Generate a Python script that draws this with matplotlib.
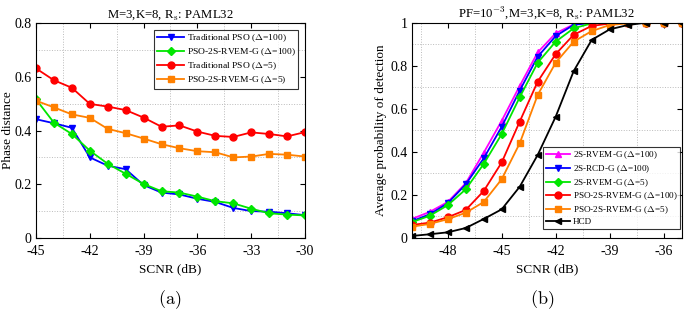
import numpy as np
import matplotlib
matplotlib.use("Agg")
import matplotlib.pyplot as plt
from matplotlib.ticker import FuncFormatter

plt.rcParams['font.family'] = ['Liberation Serif', 'DejaVu Serif']
plt.rcParams['mathtext.fontset'] = 'cm'
plt.rcParams['axes.unicode_minus'] = False

# ---- (a) phase distance vs SCNR
snr_a = np.arange(-45, -29, 1)
trad_pso_100 = [0.442, 0.427, 0.410, 0.300, 0.269, 0.256, 0.197, 0.169, 0.162, 0.146,
                0.134, 0.112, 0.100, 0.098, 0.092, 0.085]
pso_rvem_100 = [0.516, 0.429, 0.387, 0.325, 0.276, 0.239, 0.201, 0.174, 0.169, 0.154,
                0.137, 0.129, 0.109, 0.092, 0.087, 0.084]
trad_pso_5 = [0.631, 0.587, 0.559, 0.499, 0.489, 0.476, 0.448, 0.414, 0.419, 0.396,
              0.380, 0.376, 0.393, 0.387, 0.378, 0.394]
pso_rvem_5 = [0.511, 0.486, 0.460, 0.447, 0.406, 0.390, 0.370, 0.349, 0.334, 0.323,
              0.319, 0.300, 0.303, 0.313, 0.310, 0.303]

# ---- (b) detection probability vs SCNR
snr_b = np.arange(-50, -34, 1)
rvem_100 = [0.087, 0.120, 0.166, 0.253, 0.395, 0.544, 0.706, 0.862, 0.951, 0.992,
            1.0, 1.0, 1.0, 1.0, 1.0, 1.0]
rcd_100 = [0.076, 0.109, 0.160, 0.248, 0.369, 0.516, 0.684, 0.842, 0.938, 0.990,
           1.0, 1.0, 1.0, 1.0, 1.0, 1.0]
rvem_5 = [0.072, 0.102, 0.151, 0.225, 0.343, 0.482, 0.653, 0.814, 0.912, 0.974,
          0.997, 1.0, 1.0, 1.0, 1.0, 1.0]
pso_b_100 = [0.059, 0.070, 0.095, 0.129, 0.217, 0.350, 0.540, 0.726, 0.854, 0.944,
             0.985, 0.996, 1.0, 1.0, 1.0, 1.0]
pso_b_5 = [0.051, 0.064, 0.086, 0.116, 0.166, 0.272, 0.439, 0.664, 0.814, 0.912,
           0.961, 0.989, 0.997, 1.0, 1.0, 1.0]
hcd = [0.008, 0.016, 0.025, 0.045, 0.087, 0.132, 0.237, 0.385, 0.563, 0.775,
       0.920, 0.969, 0.989, 1.0, 1.0, 1.0]

W, H = 685, 316
fig = plt.figure(figsize=(W / 100, H / 100), dpi=100)
ax1 = fig.add_axes([36 / W, 1 - 238 / H, 269 / W, 215 / H])
ax2 = fig.add_axes([411.7 / W, 1 - 237.7 / H, 270 / W, 215 / H])

def style(ax):
    ax.tick_params(direction='in', top=True, right=True, labelsize=10, length=3.5, width=0.8)
    ax.tick_params(axis='x', pad=5)
    ax.tick_params(axis='y', pad=3)
    for s in ax.spines.values():
        s.set_linewidth(0.8)
    ax.grid(True, which='minor', linestyle=':', color='#bbbbbb', lw=0.7)
    ax.tick_params(which='minor', length=0)

lw, ms = 1.3, 5
ax1.plot(snr_a, trad_pso_100, '-v', color='#0000ff', lw=lw, ms=ms, label=r'Traditional PSO ($\Delta$=100)')
ax1.plot(snr_a, pso_rvem_100, '-D', color='#00e600', lw=lw, ms=4.5, label=r'PSO-2S-RVEM-G ($\Delta$=100)')
ax1.plot(snr_a, trad_pso_5, '-o', color='#ff0000', lw=lw, ms=ms, label=r'Traditional PSO ($\Delta$=5)')
ax1.plot(snr_a, pso_rvem_5, '-s', color='#ff8000', lw=lw, ms=4.5, label=r'PSO-2S-RVEM-G ($\Delta$=5)')
ax1.set_xlim(-45, -30)
ax1.set_ylim(0, 0.8)
ax1.set_xticks(np.arange(-45, -29, 3))
ax1.set_xticks(np.arange(-43.5, -30, 3), minor=True)
ax1.set_yticks(np.arange(0, 0.81, 0.2))
ax1.set_yticks(np.arange(0.1, 0.8, 0.2), minor=True)
ax1.yaxis.set_major_formatter(FuncFormatter(lambda v, p: f'{v:g}'))
style(ax1)
ax1.set_xlabel('SCNR (dB)', fontsize=9.5, labelpad=4)
ax1.set_ylabel('Phase distance', fontsize=9.5)
ax1.yaxis.set_label_coords(-0.083, 0.5)
ax1.set_title(r'M=3,K=8, R$_\mathrm{s}$: PAML32', fontsize=9.2, pad=4)
leg1 = ax1.legend(loc='upper right', fontsize=6.8, frameon=True, fancybox=False, edgecolor='black',
                  borderpad=0.3, labelspacing=0.25, handlelength=2.8, handletextpad=0.3,
                  borderaxespad=0.7)
leg1.get_frame().set_linewidth(0.8)

ax2.plot(snr_b, rvem_100, '-^', color='#ff00ff', lw=lw, ms=ms, label=r'2S-RVEM-G ($\Delta$=100)')
ax2.plot(snr_b, rcd_100, '-v', color='#0000ff', lw=lw, ms=ms, label=r'2S-RCD-G ($\Delta$=100)')
ax2.plot(snr_b, rvem_5, '-D', color='#00e600', lw=lw, ms=4.5, label=r'2S-RVEM-G ($\Delta$=5)')
ax2.plot(snr_b, pso_b_100, '-o', color='#ff0000', lw=lw, ms=ms, label=r'PSO-2S-RVEM-G ($\Delta$=100)')
ax2.plot(snr_b, pso_b_5, '-s', color='#ff8000', lw=lw, ms=4.5, label=r'PSO-2S-RVEM-G ($\Delta$=5)')
ax2.plot(snr_b, hcd, '-<', color='black', lw=lw, ms=ms, label='HCD')
ax2.set_xlim(-50, -35)
ax2.set_ylim(0, 1)
ax2.set_xticks(np.arange(-48, -35, 3))
ax2.set_xticks(np.arange(-49.5, -35, 3), minor=True)
ax2.set_yticks(np.arange(0, 1.01, 0.2))
ax2.set_yticks(np.arange(0.1, 1.0, 0.2), minor=True)
ax2.yaxis.set_major_formatter(FuncFormatter(lambda v, p: f'{v:g}'))
style(ax2)
ax2.set_xlabel('SCNR (dB)', fontsize=9.5, labelpad=4)
ax2.set_ylabel('Average probability of detection', fontsize=9.5)
ax2.yaxis.set_label_coords(-0.09, 0.5)
ax2.set_title(r'PF=10$^{-3}$,M=3,K=8, R$_\mathrm{s}$: PAML32', fontsize=9.2, pad=4)
leg2 = ax2.legend(loc='lower right', bbox_to_anchor=(0.995, 0.04), fontsize=6.6, frameon=True,
                  fancybox=False, edgecolor='black', borderpad=0.3, labelspacing=0.22,
                  handlelength=2.6, handletextpad=0.3, borderaxespad=0.0)
leg2.get_frame().set_linewidth(0.8)

fig.text(170 / W, 1 - 300 / H, r'$(\mathrm{a})$', ha='center', va='center', fontsize=13)
fig.text(542 / W, 1 - 300 / H, r'$(\mathrm{b})$', ha='center', va='center', fontsize=13)

fig.savefig('out.png', dpi=100)
